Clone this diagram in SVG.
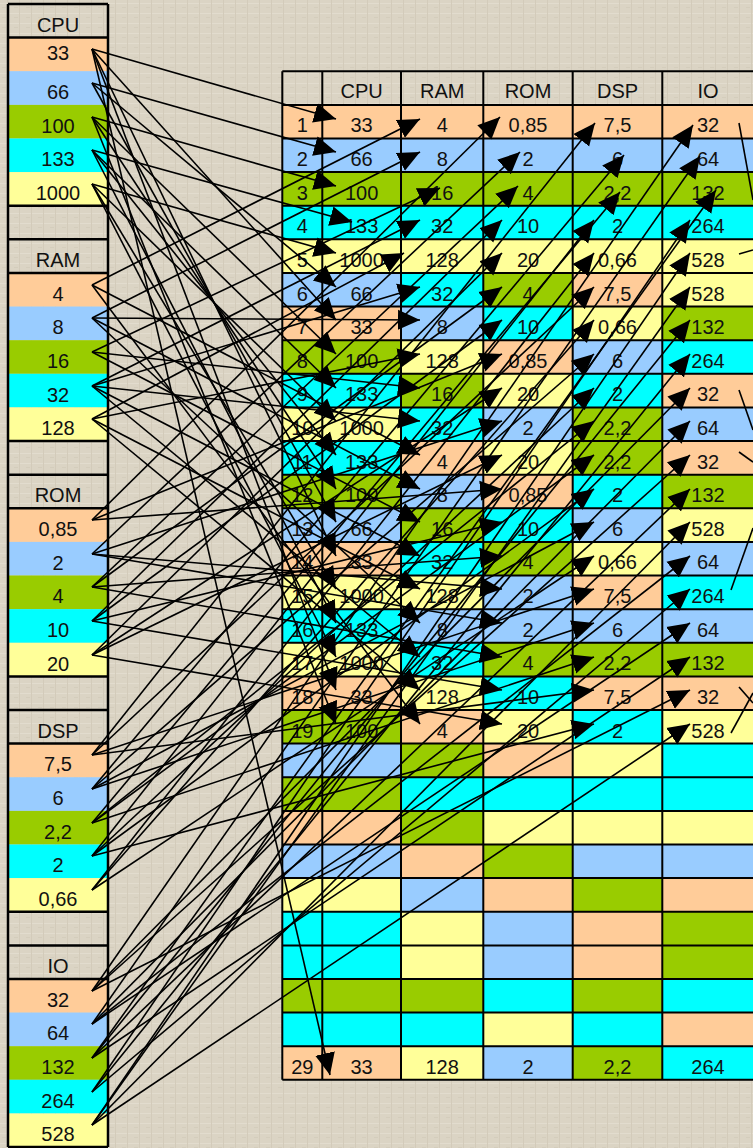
<svg xmlns="http://www.w3.org/2000/svg" width="753" height="1148" viewBox="0 0 753 1148">
<style>
.P{fill:#FFCC99}.B{fill:#99CCFF}.G{fill:#99CC00}.C{fill:#00FFFF}.Y{fill:#FFFF99}
text{font-family:"Liberation Sans",Arial,sans-serif;font-size:20px;fill:#111;text-anchor:middle}
.grid{stroke:#000;stroke-width:2;fill:none}
.a{stroke:#000;stroke-width:1.6;fill:none;marker-end:url(#ah)}
.s{stroke:#000;stroke-width:1.6;fill:none}
</style>
<defs>
<pattern id="tex" width="12" height="10" patternUnits="userSpaceOnUse">
<rect width="12" height="10" fill="#DBD4C4"/>
<rect x="0" y="3" width="12" height="1" fill="#E2DCCE"/>
<rect x="7" y="0" width="1" height="10" fill="#D3CBBA"/>
<rect x="2" y="7" width="4" height="1" fill="#D4CDBC"/>
</pattern>
<marker id="ah" markerUnits="userSpaceOnUse" markerWidth="24" markerHeight="22" refX="22" refY="10" orient="auto" viewBox="0 0 24 20">
<path d="M0,0 L22,10 L0,20 z" fill="#000"/>
</marker>
</defs>
<rect width="753" height="1148" fill="url(#tex)"/>

<g id="list-cpu">
<text x="58" y="31.7">CPU</text>
<rect class="P" x="9" y="37.6" width="98" height="33.6"/><text x="58" y="60">33</text>
<rect class="B" x="9" y="71.2" width="98" height="33.7"/><text x="58" y="99">66</text>
<rect class="G" x="9" y="104.9" width="98" height="33.6"/><text x="58" y="132.6">100</text>
<rect class="C" x="9" y="138.5" width="98" height="33.6"/><text x="58" y="166.4">133</text>
<rect class="Y" x="9" y="172.1" width="98" height="33.6"/><text x="58" y="200">1000</text>
</g>
<g id="list-ram">
<text x="58" y="266.8">RAM</text>
<rect class="P" x="9" y="273" width="98" height="33.6"/><text x="58" y="300.7">4</text>
<rect class="B" x="9" y="306.6" width="98" height="33.6"/><text x="58" y="334.3">8</text>
<rect class="G" x="9" y="340.2" width="98" height="33.6"/><text x="58" y="367.9">16</text>
<rect class="C" x="9" y="373.8" width="98" height="33.6"/><text x="58" y="401.5">32</text>
<rect class="Y" x="9" y="407.4" width="98" height="33.7"/><text x="58" y="435.1">128</text>
</g>
<g id="list-rom">
<text x="58" y="502.2">ROM</text>
<rect class="P" x="9" y="508.3" width="98" height="33.6"/><text x="58" y="536">0,85</text>
<rect class="B" x="9" y="541.9" width="98" height="33.6"/><text x="58" y="569.6">2</text>
<rect class="G" x="9" y="575.5" width="98" height="33.7"/><text x="58" y="603.2">4</text>
<rect class="C" x="9" y="609.2" width="98" height="33.6"/><text x="58" y="636.9">10</text>
<rect class="Y" x="9" y="642.8" width="98" height="33.6"/><text x="58" y="670.5">20</text>
</g>
<g id="list-dsp">
<text x="58" y="737.5">DSP</text>
<rect class="P" x="9" y="743.6" width="98" height="33.7"/><text x="58" y="771.3">7,5</text>
<rect class="B" x="9" y="777.3" width="98" height="33.6"/><text x="58" y="805">6</text>
<rect class="G" x="9" y="810.9" width="98" height="33.6"/><text x="58" y="838.6">2,2</text>
<rect class="C" x="9" y="844.5" width="98" height="33.6"/><text x="58" y="872.2">2</text>
<rect class="Y" x="9" y="878.1" width="98" height="33.6"/><text x="58" y="905.8">0,66</text>
</g>
<g id="list-io">
<text x="58" y="972.9">IO</text>
<rect class="P" x="9" y="979" width="98" height="33.6"/><text x="58" y="1006.7">32</text>
<rect class="B" x="9" y="1012.6" width="98" height="33.6"/><text x="58" y="1040.3">64</text>
<rect class="G" x="9" y="1046.2" width="98" height="33.6"/><text x="58" y="1073.9">132</text>
<rect class="C" x="9" y="1079.8" width="98" height="33.7"/><text x="58" y="1107.5">264</text>
<rect class="Y" x="9" y="1113.5" width="98" height="33.6"/><text x="58" y="1141.2">528</text>
</g>
<g id="list-frame" class="grid" style="stroke-width:2.5">
<path d="M8,4V1147M108,4V1147"/>
<path d="M8,4H108M8,37.6H108M8,205.7H108M8,239.3H108M8,273H108M8,441.1H108M8,474.7H108M8,508.3H108M8,676.4H108M8,710H108M8,743.6H108M8,911.7H108M8,945.4H108M8,979H108M8,1147H108"/>
</g>

<g id="table">
<g id="thead" transform="translate(0,71.2)">
<text x="361.6" y="26.8">CPU</text><text x="442.2" y="26.8">RAM</text><text x="528" y="26.8">ROM</text><text x="617.5" y="26.8">DSP</text><text x="708" y="26.8">IO</text>
</g>
<g id="r1" transform="translate(0,104.9)"><rect class="P" x="282.3" width="40" height="33.6"/><rect class="P" x="322.3" width="78.7" height="33.6"/><rect class="P" x="401" width="82.3" height="33.6"/><rect class="P" x="483.3" width="89.4" height="33.6"/><rect class="P" x="572.7" width="89.6" height="33.6"/><rect class="P" x="662.3" width="91.7" height="33.6"/>
<text x="302.3" y="27.5">1</text><text x="361.6" y="27.5">33</text><text x="442.2" y="27.5">4</text><text x="528" y="27.5">0,85</text><text x="617.5" y="27.5">7,5</text><text x="708" y="27.5">32</text></g>
<g id="r2" transform="translate(0,138.5)"><rect class="B" x="282.3" width="40" height="33.6"/><rect class="B" x="322.3" width="78.7" height="33.6"/><rect class="B" x="401" width="82.3" height="33.6"/><rect class="B" x="483.3" width="89.4" height="33.6"/><rect class="B" x="572.7" width="89.6" height="33.6"/><rect class="B" x="662.3" width="91.7" height="33.6"/>
<text x="302.3" y="27.5">2</text><text x="361.6" y="27.5">66</text><text x="442.2" y="27.5">8</text><text x="528" y="27.5">2</text><text x="617.5" y="27.5">6</text><text x="708" y="27.5">64</text></g>
<g id="r3" transform="translate(0,172.1)"><rect class="G" x="282.3" width="40" height="33.6"/><rect class="G" x="322.3" width="78.7" height="33.6"/><rect class="G" x="401" width="82.3" height="33.6"/><rect class="G" x="483.3" width="89.4" height="33.6"/><rect class="G" x="572.7" width="89.6" height="33.6"/><rect class="G" x="662.3" width="91.7" height="33.6"/>
<text x="302.3" y="27.5">3</text><text x="361.6" y="27.5">100</text><text x="442.2" y="27.5">16</text><text x="528" y="27.5">4</text><text x="617.5" y="27.5">2,2</text><text x="708" y="27.5">132</text></g>
<g id="r4" transform="translate(0,205.7)"><rect class="C" x="282.3" width="40" height="33.6"/><rect class="C" x="322.3" width="78.7" height="33.6"/><rect class="C" x="401" width="82.3" height="33.6"/><rect class="C" x="483.3" width="89.4" height="33.6"/><rect class="C" x="572.7" width="89.6" height="33.6"/><rect class="C" x="662.3" width="91.7" height="33.6"/>
<text x="302.3" y="27.5">4</text><text x="361.6" y="27.5">133</text><text x="442.2" y="27.5">32</text><text x="528" y="27.5">10</text><text x="617.5" y="27.5">2</text><text x="708" y="27.5">264</text></g>
<g id="r5" transform="translate(0,239.3)"><rect class="Y" x="282.3" width="40" height="33.7"/><rect class="Y" x="322.3" width="78.7" height="33.7"/><rect class="Y" x="401" width="82.3" height="33.7"/><rect class="Y" x="483.3" width="89.4" height="33.7"/><rect class="Y" x="572.7" width="89.6" height="33.7"/><rect class="Y" x="662.3" width="91.7" height="33.7"/>
<text x="302.3" y="27.5">5</text><text x="361.6" y="27.5">1000</text><text x="442.2" y="27.5">128</text><text x="528" y="27.5">20</text><text x="617.5" y="27.5">0,66</text><text x="708" y="27.5">528</text></g>
<g id="r6" transform="translate(0,273)"><rect class="B" x="282.3" width="40" height="33.6"/><rect class="B" x="322.3" width="78.7" height="33.6"/><rect class="C" x="401" width="82.3" height="33.6"/><rect class="G" x="483.3" width="89.4" height="33.6"/><rect class="P" x="572.7" width="89.6" height="33.6"/><rect class="Y" x="662.3" width="91.7" height="33.6"/>
<text x="302.3" y="27.5">6</text><text x="361.6" y="27.5">66</text><text x="442.2" y="27.5">32</text><text x="528" y="27.5">4</text><text x="617.5" y="27.5">7,5</text><text x="708" y="27.5">528</text></g>
<g id="r7" transform="translate(0,306.6)"><rect class="P" x="282.3" width="40" height="33.6"/><rect class="P" x="322.3" width="78.7" height="33.6"/><rect class="B" x="401" width="82.3" height="33.6"/><rect class="C" x="483.3" width="89.4" height="33.6"/><rect class="Y" x="572.7" width="89.6" height="33.6"/><rect class="G" x="662.3" width="91.7" height="33.6"/>
<text x="302.3" y="27.5">7</text><text x="361.6" y="27.5">33</text><text x="442.2" y="27.5">8</text><text x="528" y="27.5">10</text><text x="617.5" y="27.5">0,66</text><text x="708" y="27.5">132</text></g>
<g id="r8" transform="translate(0,340.2)"><rect class="G" x="282.3" width="40" height="33.6"/><rect class="G" x="322.3" width="78.7" height="33.6"/><rect class="Y" x="401" width="82.3" height="33.6"/><rect class="P" x="483.3" width="89.4" height="33.6"/><rect class="B" x="572.7" width="89.6" height="33.6"/><rect class="C" x="662.3" width="91.7" height="33.6"/>
<text x="302.3" y="27.5">8</text><text x="361.6" y="27.5">100</text><text x="442.2" y="27.5">128</text><text x="528" y="27.5">0,85</text><text x="617.5" y="27.5">6</text><text x="708" y="27.5">264</text></g>
<g id="r9" transform="translate(0,373.8)"><rect class="C" x="282.3" width="40" height="33.6"/><rect class="C" x="322.3" width="78.7" height="33.6"/><rect class="G" x="401" width="82.3" height="33.6"/><rect class="Y" x="483.3" width="89.4" height="33.6"/><rect class="C" x="572.7" width="89.6" height="33.6"/><rect class="P" x="662.3" width="91.7" height="33.6"/>
<text x="302.3" y="27.5">9</text><text x="361.6" y="27.5">133</text><text x="442.2" y="27.5">16</text><text x="528" y="27.5">20</text><text x="617.5" y="27.5">2</text><text x="708" y="27.5">32</text></g>
<g id="r10" transform="translate(0,407.4)"><rect class="Y" x="282.3" width="40" height="33.7"/><rect class="Y" x="322.3" width="78.7" height="33.7"/><rect class="C" x="401" width="82.3" height="33.7"/><rect class="B" x="483.3" width="89.4" height="33.7"/><rect class="G" x="572.7" width="89.6" height="33.7"/><rect class="B" x="662.3" width="91.7" height="33.7"/>
<text x="302.3" y="27.5">10</text><text x="361.6" y="27.5">1000</text><text x="442.2" y="27.5">32</text><text x="528" y="27.5">2</text><text x="617.5" y="27.5">2,2</text><text x="708" y="27.5">64</text></g>
<g id="r11" transform="translate(0,441.1)"><rect class="C" x="282.3" width="40" height="33.6"/><rect class="C" x="322.3" width="78.7" height="33.6"/><rect class="P" x="401" width="82.3" height="33.6"/><rect class="Y" x="483.3" width="89.4" height="33.6"/><rect class="G" x="572.7" width="89.6" height="33.6"/><rect class="P" x="662.3" width="91.7" height="33.6"/>
<text x="302.3" y="27.5">11</text><text x="361.6" y="27.5">133</text><text x="442.2" y="27.5">4</text><text x="528" y="27.5">20</text><text x="617.5" y="27.5">2,2</text><text x="708" y="27.5">32</text></g>
<g id="r12" transform="translate(0,474.7)"><rect class="G" x="282.3" width="40" height="33.6"/><rect class="G" x="322.3" width="78.7" height="33.6"/><rect class="B" x="401" width="82.3" height="33.6"/><rect class="P" x="483.3" width="89.4" height="33.6"/><rect class="C" x="572.7" width="89.6" height="33.6"/><rect class="G" x="662.3" width="91.7" height="33.6"/>
<text x="302.3" y="27.5">12</text><text x="361.6" y="27.5">100</text><text x="442.2" y="27.5">8</text><text x="528" y="27.5">0,85</text><text x="617.5" y="27.5">2</text><text x="708" y="27.5">132</text></g>
<g id="r13" transform="translate(0,508.3)"><rect class="B" x="282.3" width="40" height="33.6"/><rect class="B" x="322.3" width="78.7" height="33.6"/><rect class="G" x="401" width="82.3" height="33.6"/><rect class="C" x="483.3" width="89.4" height="33.6"/><rect class="B" x="572.7" width="89.6" height="33.6"/><rect class="Y" x="662.3" width="91.7" height="33.6"/>
<text x="302.3" y="27.5">13</text><text x="361.6" y="27.5">66</text><text x="442.2" y="27.5">16</text><text x="528" y="27.5">10</text><text x="617.5" y="27.5">6</text><text x="708" y="27.5">528</text></g>
<g id="r14" transform="translate(0,541.9)"><rect class="P" x="282.3" width="40" height="33.6"/><rect class="P" x="322.3" width="78.7" height="33.6"/><rect class="C" x="401" width="82.3" height="33.6"/><rect class="G" x="483.3" width="89.4" height="33.6"/><rect class="Y" x="572.7" width="89.6" height="33.6"/><rect class="B" x="662.3" width="91.7" height="33.6"/>
<text x="302.3" y="27.5">14</text><text x="361.6" y="27.5">33</text><text x="442.2" y="27.5">32</text><text x="528" y="27.5">4</text><text x="617.5" y="27.5">0,66</text><text x="708" y="27.5">64</text></g>
<g id="r15" transform="translate(0,575.5)"><rect class="Y" x="282.3" width="40" height="33.7"/><rect class="Y" x="322.3" width="78.7" height="33.7"/><rect class="Y" x="401" width="82.3" height="33.7"/><rect class="B" x="483.3" width="89.4" height="33.7"/><rect class="P" x="572.7" width="89.6" height="33.7"/><rect class="C" x="662.3" width="91.7" height="33.7"/>
<text x="302.3" y="27.5">15</text><text x="361.6" y="27.5">1000</text><text x="442.2" y="27.5">128</text><text x="528" y="27.5">2</text><text x="617.5" y="27.5">7,5</text><text x="708" y="27.5">264</text></g>
<g id="r16" transform="translate(0,609.2)"><rect class="C" x="282.3" width="40" height="33.6"/><rect class="C" x="322.3" width="78.7" height="33.6"/><rect class="B" x="401" width="82.3" height="33.6"/><rect class="B" x="483.3" width="89.4" height="33.6"/><rect class="B" x="572.7" width="89.6" height="33.6"/><rect class="B" x="662.3" width="91.7" height="33.6"/>
<text x="302.3" y="27.5">16</text><text x="361.6" y="27.5">133</text><text x="442.2" y="27.5">8</text><text x="528" y="27.5">2</text><text x="617.5" y="27.5">6</text><text x="708" y="27.5">64</text></g>
<g id="r17" transform="translate(0,642.8)"><rect class="Y" x="282.3" width="40" height="33.6"/><rect class="Y" x="322.3" width="78.7" height="33.6"/><rect class="C" x="401" width="82.3" height="33.6"/><rect class="G" x="483.3" width="89.4" height="33.6"/><rect class="G" x="572.7" width="89.6" height="33.6"/><rect class="G" x="662.3" width="91.7" height="33.6"/>
<text x="302.3" y="27.5">17</text><text x="361.6" y="27.5">1000</text><text x="442.2" y="27.5">32</text><text x="528" y="27.5">4</text><text x="617.5" y="27.5">2,2</text><text x="708" y="27.5">132</text></g>
<g id="r18" transform="translate(0,676.4)"><rect class="P" x="282.3" width="40" height="33.6"/><rect class="P" x="322.3" width="78.7" height="33.6"/><rect class="Y" x="401" width="82.3" height="33.6"/><rect class="C" x="483.3" width="89.4" height="33.6"/><rect class="P" x="572.7" width="89.6" height="33.6"/><rect class="P" x="662.3" width="91.7" height="33.6"/>
<text x="302.3" y="27.5">18</text><text x="361.6" y="27.5">33</text><text x="442.2" y="27.5">128</text><text x="528" y="27.5">10</text><text x="617.5" y="27.5">7,5</text><text x="708" y="27.5">32</text></g>
<g id="r19" transform="translate(0,710)"><rect class="G" x="282.3" width="40" height="33.6"/><rect class="G" x="322.3" width="78.7" height="33.6"/><rect class="P" x="401" width="82.3" height="33.6"/><rect class="Y" x="483.3" width="89.4" height="33.6"/><rect class="C" x="572.7" width="89.6" height="33.6"/><rect class="Y" x="662.3" width="91.7" height="33.6"/>
<text x="302.3" y="27.5">19</text><text x="361.6" y="27.5">100</text><text x="442.2" y="27.5">4</text><text x="528" y="27.5">20</text><text x="617.5" y="27.5">2</text><text x="708" y="27.5">528</text></g>
<g id="r20" transform="translate(0,743.6)"><rect class="B" x="282.3" width="40" height="33.7"/><rect class="B" x="322.3" width="78.7" height="33.7"/><rect class="G" x="401" width="82.3" height="33.7"/><rect class="P" x="483.3" width="89.4" height="33.7"/><rect class="Y" x="572.7" width="89.6" height="33.7"/><rect class="C" x="662.3" width="91.7" height="33.7"/></g>
<g id="r21" transform="translate(0,777.3)"><rect class="G" x="282.3" width="40" height="33.6"/><rect class="G" x="322.3" width="78.7" height="33.6"/><rect class="C" x="401" width="82.3" height="33.6"/><rect class="C" x="483.3" width="89.4" height="33.6"/><rect class="C" x="572.7" width="89.6" height="33.6"/><rect class="C" x="662.3" width="91.7" height="33.6"/></g>
<g id="r22" transform="translate(0,810.9)"><rect class="P" x="282.3" width="40" height="33.6"/><rect class="P" x="322.3" width="78.7" height="33.6"/><rect class="G" x="401" width="82.3" height="33.6"/><rect class="Y" x="483.3" width="89.4" height="33.6"/><rect class="Y" x="572.7" width="89.6" height="33.6"/><rect class="Y" x="662.3" width="91.7" height="33.6"/></g>
<g id="r23" transform="translate(0,844.5)"><rect class="B" x="282.3" width="40" height="33.6"/><rect class="B" x="322.3" width="78.7" height="33.6"/><rect class="P" x="401" width="82.3" height="33.6"/><rect class="G" x="483.3" width="89.4" height="33.6"/><rect class="B" x="572.7" width="89.6" height="33.6"/><rect class="B" x="662.3" width="91.7" height="33.6"/></g>
<g id="r24" transform="translate(0,878.1)"><rect class="Y" x="282.3" width="40" height="33.6"/><rect class="Y" x="322.3" width="78.7" height="33.6"/><rect class="B" x="401" width="82.3" height="33.6"/><rect class="P" x="483.3" width="89.4" height="33.6"/><rect class="G" x="572.7" width="89.6" height="33.6"/><rect class="P" x="662.3" width="91.7" height="33.6"/></g>
<g id="r25" transform="translate(0,911.7)"><rect class="C" x="282.3" width="40" height="33.7"/><rect class="C" x="322.3" width="78.7" height="33.7"/><rect class="Y" x="401" width="82.3" height="33.7"/><rect class="B" x="483.3" width="89.4" height="33.7"/><rect class="P" x="572.7" width="89.6" height="33.7"/><rect class="G" x="662.3" width="91.7" height="33.7"/></g>
<g id="r26" transform="translate(0,945.4)"><rect class="C" x="282.3" width="40" height="33.6"/><rect class="C" x="322.3" width="78.7" height="33.6"/><rect class="Y" x="401" width="82.3" height="33.6"/><rect class="B" x="483.3" width="89.4" height="33.6"/><rect class="P" x="572.7" width="89.6" height="33.6"/><rect class="G" x="662.3" width="91.7" height="33.6"/></g>
<g id="r27" transform="translate(0,979)"><rect class="G" x="282.3" width="40" height="33.6"/><rect class="G" x="322.3" width="78.7" height="33.6"/><rect class="G" x="401" width="82.3" height="33.6"/><rect class="C" x="483.3" width="89.4" height="33.6"/><rect class="G" x="572.7" width="89.6" height="33.6"/><rect class="C" x="662.3" width="91.7" height="33.6"/></g>
<g id="r28" transform="translate(0,1012.6)"><rect class="C" x="282.3" width="40" height="33.6"/><rect class="C" x="322.3" width="78.7" height="33.6"/><rect class="C" x="401" width="82.3" height="33.6"/><rect class="Y" x="483.3" width="89.4" height="33.6"/><rect class="C" x="572.7" width="89.6" height="33.6"/><rect class="P" x="662.3" width="91.7" height="33.6"/></g>
<g id="r29" transform="translate(0,1046.2)"><rect class="P" x="282.3" width="40" height="33.6"/><rect class="P" x="322.3" width="78.7" height="33.6"/><rect class="Y" x="401" width="82.3" height="33.6"/><rect class="B" x="483.3" width="89.4" height="33.6"/><rect class="G" x="572.7" width="89.6" height="33.6"/><rect class="C" x="662.3" width="91.7" height="33.6"/>
<text x="302.3" y="27.5">29</text><text x="361.6" y="27.5">33</text><text x="442.2" y="27.5">128</text><text x="528" y="27.5">2</text><text x="617.5" y="27.5">2,2</text><text x="708" y="27.5">264</text></g>
<g id="table-grid" class="grid">
<path d="M282.3,71.2V1079.8M322.3,71.2V1079.8M401,71.2V1079.8M483.3,71.2V1079.8M572.7,71.2V1079.8M662.3,71.2V1079.8"/>
<path d="M282.3,71.2H754M282.3,104.9H754M282.3,138.5H754M282.3,172.1H754M282.3,205.7H754M282.3,239.3H754M282.3,273H754M282.3,306.6H754M282.3,340.2H754M282.3,373.8H754M282.3,407.4H754M282.3,441.1H754M282.3,474.7H754M282.3,508.3H754M282.3,541.9H754M282.3,575.5H754M282.3,609.2H754M282.3,642.8H754M282.3,676.4H754M282.3,710H754M282.3,743.6H754M282.3,777.3H754M282.3,810.9H754M282.3,844.5H754M282.3,878.1H754M282.3,911.7H754M282.3,945.4H754M282.3,979H754M282.3,1012.6H754M282.3,1046.2H754M282.3,1079.8H754"/>
</g>
</g>

<g id="connectors">
<line class="a" x1="92" y1="49" x2="336" y2="119"/>
<line class="a" x1="92" y1="49" x2="336" y2="320"/>
<line class="a" x1="92" y1="49" x2="336" y2="556"/>
<line class="a" x1="92" y1="49" x2="336" y2="690"/>
<line class="a" x1="92" y1="49" x2="330" y2="1075"/>
<line class="a" x1="92" y1="83" x2="336" y2="152"/>
<line class="a" x1="92" y1="83" x2="336" y2="287"/>
<line class="a" x1="92" y1="83" x2="336" y2="522"/>
<line class="a" x1="92" y1="117" x2="336" y2="186"/>
<line class="a" x1="92" y1="117" x2="336" y2="354"/>
<line class="a" x1="92" y1="117" x2="336" y2="489"/>
<line class="a" x1="92" y1="117" x2="336" y2="724"/>
<line class="a" x1="92" y1="150" x2="352" y2="222"/>
<line class="a" x1="92" y1="150" x2="336" y2="388"/>
<line class="a" x1="92" y1="150" x2="336" y2="455"/>
<line class="a" x1="92" y1="150" x2="336" y2="623"/>
<line class="a" x1="92" y1="184" x2="336" y2="253"/>
<line class="a" x1="92" y1="184" x2="336" y2="421"/>
<line class="a" x1="92" y1="184" x2="336" y2="589"/>
<line class="a" x1="92" y1="184" x2="336" y2="657"/>

<line class="a" x1="92" y1="285" x2="420" y2="119"/>
<line class="a" x1="92" y1="285" x2="420" y2="455"/>
<line class="a" x1="92" y1="285" x2="420" y2="724"/>
<line class="a" x1="92" y1="318" x2="420" y2="152"/>
<line class="a" x1="92" y1="318" x2="420" y2="320"/>
<line class="a" x1="92" y1="318" x2="420" y2="489"/>
<line class="a" x1="92" y1="318" x2="420" y2="623"/>
<line class="a" x1="92" y1="352" x2="440" y2="188"/>
<line class="a" x1="92" y1="352" x2="420" y2="388"/>
<line class="a" x1="92" y1="352" x2="420" y2="522"/>
<line class="a" x1="92" y1="386" x2="420" y2="220"/>
<line class="a" x1="92" y1="386" x2="420" y2="287"/>
<line class="a" x1="92" y1="386" x2="420" y2="421"/>
<line class="a" x1="92" y1="386" x2="420" y2="556"/>
<line class="a" x1="92" y1="386" x2="420" y2="657"/>
<line class="a" x1="92" y1="419" x2="404" y2="253"/>
<line class="a" x1="92" y1="419" x2="420" y2="354"/>
<line class="a" x1="92" y1="419" x2="420" y2="589"/>
<line class="a" x1="92" y1="419" x2="420" y2="690"/>

<line class="a" x1="92" y1="520" x2="500" y2="117"/>
<line class="a" x1="92" y1="520" x2="502" y2="354"/>
<line class="a" x1="92" y1="520" x2="502" y2="489"/>
<line class="a" x1="92" y1="554" x2="520" y2="152"/>
<line class="a" x1="92" y1="554" x2="502" y2="421"/>
<line class="a" x1="92" y1="554" x2="502" y2="589"/>
<line class="a" x1="92" y1="554" x2="502" y2="623"/>
<line class="a" x1="92" y1="587" x2="518" y2="186"/>
<line class="a" x1="92" y1="587" x2="502" y2="287"/>
<line class="a" x1="92" y1="587" x2="502" y2="556"/>
<line class="a" x1="92" y1="587" x2="502" y2="657"/>
<line class="a" x1="92" y1="621" x2="502" y2="220"/>
<line class="a" x1="92" y1="621" x2="502" y2="320"/>
<line class="a" x1="92" y1="621" x2="502" y2="522"/>
<line class="a" x1="92" y1="621" x2="502" y2="690"/>
<line class="a" x1="92" y1="655" x2="502" y2="253"/>
<line class="a" x1="92" y1="655" x2="502" y2="388"/>
<line class="a" x1="92" y1="655" x2="502" y2="455"/>
<line class="a" x1="92" y1="655" x2="502" y2="724"/>

<line class="a" x1="92" y1="755" x2="595" y2="123"/>
<line class="a" x1="92" y1="755" x2="594" y2="287"/>
<line class="a" x1="92" y1="755" x2="594" y2="589"/>
<line class="a" x1="92" y1="755" x2="594" y2="690"/>
<line class="a" x1="92" y1="789" x2="624" y2="155"/>
<line class="a" x1="92" y1="789" x2="594" y2="354"/>
<line class="a" x1="92" y1="789" x2="594" y2="522"/>
<line class="a" x1="92" y1="789" x2="594" y2="623"/>
<line class="a" x1="92" y1="823" x2="620" y2="192"/>
<line class="a" x1="92" y1="823" x2="594" y2="421"/>
<line class="a" x1="92" y1="823" x2="594" y2="455"/>
<line class="a" x1="92" y1="823" x2="594" y2="657"/>
<line class="a" x1="92" y1="856" x2="594" y2="220"/>
<line class="a" x1="92" y1="856" x2="594" y2="388"/>
<line class="a" x1="92" y1="856" x2="594" y2="489"/>
<line class="a" x1="92" y1="856" x2="594" y2="724"/>
<line class="a" x1="92" y1="890" x2="594" y2="253"/>
<line class="a" x1="92" y1="890" x2="594" y2="320"/>
<line class="a" x1="92" y1="890" x2="594" y2="556"/>

<line class="a" x1="92" y1="991" x2="693" y2="125"/>
<line class="a" x1="92" y1="991" x2="690" y2="388"/>
<line class="a" x1="92" y1="991" x2="690" y2="455"/>
<line class="a" x1="92" y1="991" x2="690" y2="690"/>
<line class="a" x1="92" y1="1024" x2="700" y2="156"/>
<line class="a" x1="92" y1="1024" x2="690" y2="421"/>
<line class="a" x1="92" y1="1024" x2="690" y2="556"/>
<line class="a" x1="92" y1="1024" x2="690" y2="623"/>
<line class="a" x1="92" y1="1058" x2="716" y2="190"/>
<line class="a" x1="92" y1="1058" x2="690" y2="320"/>
<line class="a" x1="92" y1="1058" x2="690" y2="489"/>
<line class="a" x1="92" y1="1058" x2="690" y2="657"/>
<line class="a" x1="92" y1="1092" x2="690" y2="220"/>
<line class="a" x1="92" y1="1092" x2="690" y2="354"/>
<line class="a" x1="92" y1="1092" x2="690" y2="589"/>
<line class="a" x1="92" y1="1125" x2="690" y2="253"/>
<line class="a" x1="92" y1="1125" x2="690" y2="287"/>
<line class="a" x1="92" y1="1125" x2="690" y2="522"/>
<line class="a" x1="92" y1="1125" x2="690" y2="724"/>

<line class="s" x1="739" y1="123" x2="753" y2="200"/>
<line class="s" x1="739" y1="254" x2="753" y2="250"/>
<line class="s" x1="739" y1="390" x2="753" y2="430"/>
<line class="s" x1="739" y1="452" x2="753" y2="462"/>
<line class="s" x1="753" y1="528" x2="731" y2="590"/>
<line class="s" x1="739" y1="687" x2="753" y2="703"/>
<line class="s" x1="753" y1="693" x2="731" y2="733"/>
</g>
</svg>
